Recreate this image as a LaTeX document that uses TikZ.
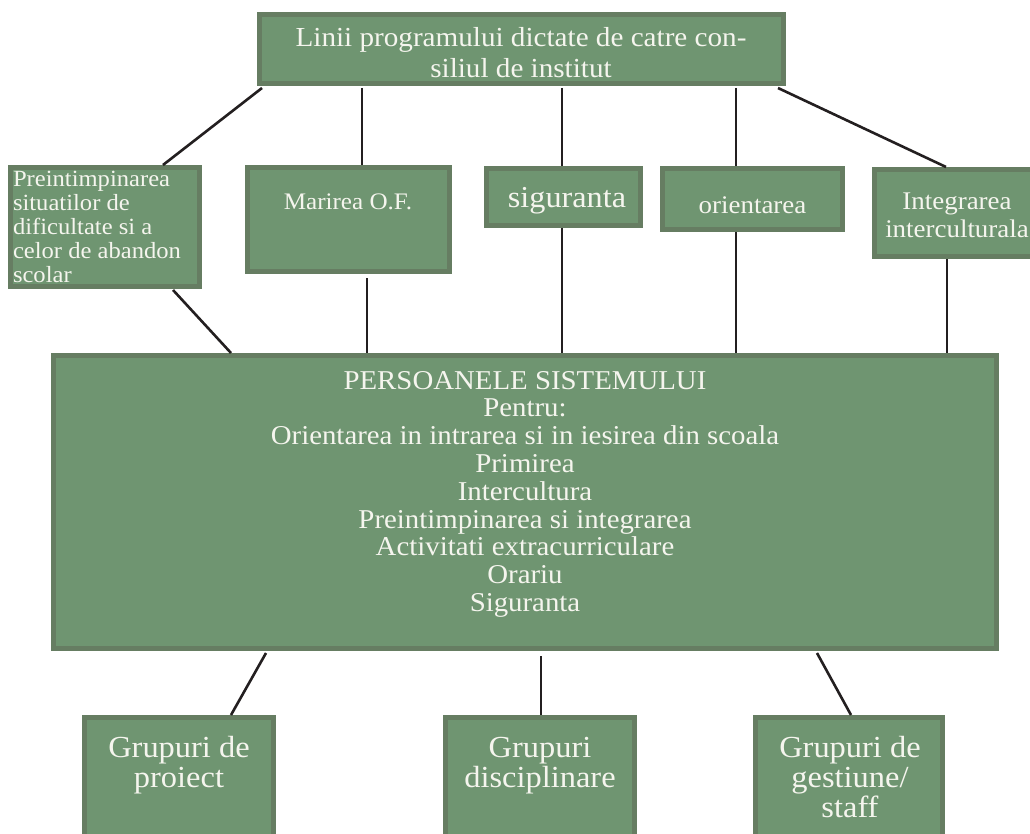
\documentclass[tikz,border=0pt]{standalone}
\usepackage{fontspec}
\setmainfont{Liberation Serif}[FakeStretch=1.06]
\definecolor{boxfill}{RGB}{111,149,113}
\definecolor{boxline}{RGB}{102,125,98}
\definecolor{boxtext}{RGB}{245,245,238}
\definecolor{conn}{RGB}{35,31,32}
\newcommand{\mlc}[3]{{\fontsize{#1}{#2}\selectfont\vtop{\baselineskip=#2\relax\lineskiplimit=-100pt\lineskip=0pt\halign{\hfil##\hfil\cr#3\crcr}}}}
\newcommand{\mll}[3]{{\fontsize{#1}{#2}\selectfont\vtop{\baselineskip=#2\relax\lineskiplimit=-100pt\lineskip=0pt\halign{##\hfil\cr#3\crcr}}}}
\tikzset{
  gbox/.style={draw=boxline, fill=boxfill, line width=5pt, rectangle, inner sep=0pt},
  gtext/.style={text=boxtext, inner sep=0pt, outer sep=0pt},
  conline/.style={draw=conn, line width=2.6pt},
}
\begin{document}
\begin{tikzpicture}[x=1pt,y=-1pt]
\useasboundingbox (0,0) rectangle (1030,834);
\clip (0,0) rectangle (1030,834);
% boxes
\node[gbox, minimum width=524pt, minimum height=69pt] (top) at (521.5,49) {};
\node[gbox, minimum width=189pt, minimum height=119pt] (left) at (105,227) {};
\node[gbox, minimum width=202pt, minimum height=104pt] (mar) at (348.5,219.5) {};
\node[gbox, minimum width=154pt, minimum height=57pt] (sig) at (563.5,197) {};
\node[gbox, minimum width=180pt, minimum height=61pt] (ori) at (752.5,199) {};
\node[gbox, minimum width=165pt, minimum height=87pt] (int) at (957,213) {};
\node[gbox, minimum width=943pt, minimum height=293pt] (big) at (525,502) {};
\node[gbox, minimum width=189pt, minimum height=140pt] (g1) at (179,787.5) {};
\node[gbox, minimum width=189pt, minimum height=140pt] (g2) at (540,787.5) {};
\node[gbox, minimum width=187pt, minimum height=140pt] (g3) at (849,787.5) {};
% texts
\node[gtext, anchor=base] (topT) at (521,46.5) {\mlc{27.5pt}{31pt}{Linii programului dictate de catre con-\cr siliul de institut}};
\node[gtext, anchor=base west] (leftT) at (13,187) {\mll{23.2pt}{24pt}{Preintimpinarea\cr situatilor de\cr dificultate si a\cr celor de abandon\cr scolar}};
\node[gtext, anchor=base] (marT) at (348,210) {\mlc{23.7pt}{26pt}{Marirea O.F.}};
\node[gtext, anchor=base] (sigT) at (567,208) {\mlc{30.4pt}{30pt}{siguranta}};
\node[gtext, anchor=base] (oriT) at (752.5,214) {\mlc{25.4pt}{28pt}{orientarea}};
\node[gtext, anchor=base] (intT) at (957,210) {\mlc{25.4pt}{28pt}{Integrarea\cr interculturala}};
\node[gtext, anchor=base] (bigT) at (525,389) {\mlc{27.2pt}{27.8pt}{PERSOANELE SISTEMULUI\cr Pentru:\cr Orientarea in intrarea si in iesirea din scoala\cr Primirea\cr Intercultura\cr Preintimpinarea si integrarea\cr Activitati extracurriculare\cr Orariu\cr Siguranta}};
\node[gtext, anchor=base] (g1T) at (179,757) {\mlc{30.6pt}{30pt}{Grupuri de\cr proiect}};
\node[gtext, anchor=base] (g2T) at (540,757) {\mlc{30.6pt}{30pt}{Grupuri\cr disciplinare}};
\node[gtext, anchor=base] (g3T) at (850,757) {\mlc{30.6pt}{30pt}{Grupuri de\cr gestiune/\cr staff}};
% connectors
\draw[conline] ([xshift=5pt,yshift=-2pt]top.south west) -- ([xshift=155pt]left.north west);
\draw[conline] ([yshift=-2pt]top.south -| 362,0) -- (mar.north -| 362,0);
\draw[conline] ([yshift=-2pt]top.south -| 562,0) -- (sig.north -| 562,0);
\draw[conline] ([yshift=-2pt]top.south -| 736,0) -- (ori.north -| 736,0);
\draw[conline] ([xshift=-8pt,yshift=-2pt]top.south east) -- ([xshift=74pt]int.north west);
\draw[conline] ([xshift=165pt,yshift=-1pt]left.south west) -- ([xshift=180pt]big.north west);
\draw[conline] ([yshift=-4pt]mar.south -| 367,0) -- (big.north -| 367,0);
\draw[conline] (sig.south -| 562,0) -- (big.north -| 562,0);
\draw[conline] (ori.south -| 736,0) -- (big.north -| 736,0);
\draw[conline] (int.south -| 947,0) -- (big.north -| 947,0);
\draw[conline] ([xshift=215pt,yshift=-2pt]big.south west) -- ([xshift=149pt]g1.north west);
\draw[conline] ([yshift=-5pt]big.south -| 541,0) -- (g2.north -| 541,0);
\draw[conline] ([xshift=-182pt,yshift=-2pt]big.south east) -- ([xshift=98pt]g3.north west);
\end{tikzpicture}
\end{document}
